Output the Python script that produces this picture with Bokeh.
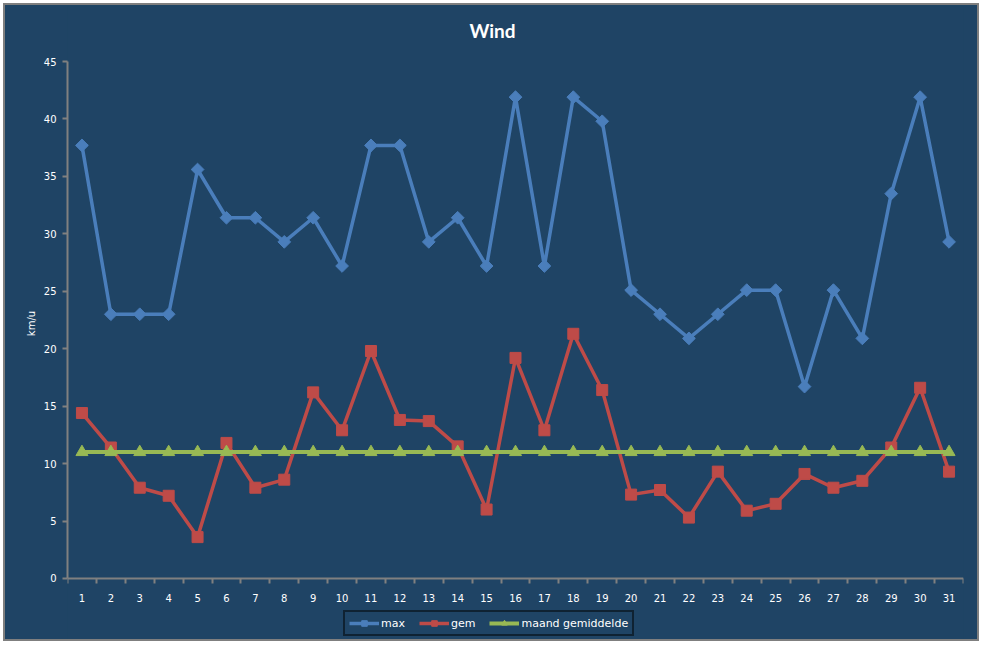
from math import pi

from bokeh.plotting import figure
from bokeh.models import ColumnDataSource, FixedTicker, Legend, LegendItem, Label
from bokeh.embed import file_html
from bokeh.resources import INLINE

days = list(range(1, 32))
wind_max = [37.7, 23.0, 23.0, 23.0, 35.6, 31.4, 31.4, 29.3, 31.4, 27.2,
            37.7, 37.7, 29.3, 31.4, 27.2, 41.9, 27.2, 41.9, 39.8, 25.1,
            23.0, 20.9, 23.0, 25.1, 25.1, 16.7, 25.1, 20.9, 33.5, 41.9, 29.3]
wind_gem = [14.4, 11.4, 7.9, 7.2, 3.6, 11.8, 7.9, 8.6, 16.2, 12.9,
            19.8, 13.8, 13.7, 11.5, 6.0, 19.2, 12.9, 21.3, 16.4, 7.3,
            7.7, 5.3, 9.3, 5.9, 6.5, 9.1, 7.9, 8.5, 11.4, 16.6, 9.3]
maand_gem = [11.0] * 31
y_ticks = [0, 5, 10, 15, 20, 25, 30, 35, 40, 45]

BG = "#1F4465"
AXIS = "#808080"

source = ColumnDataSource(data=dict(day=days, max=wind_max, gem=wind_gem, avg=maand_gem))

# the frame covers the title and legend area too; axes are pinned to 0..45
p = figure(width=976, height=638, output_backend="svg", toolbar_location=None,
           x_range=(0.5, 31.5), y_range=(-5.4, 49.79),
           min_border_left=62, min_border_right=18, min_border_top=1, min_border_bottom=3)
p.background_fill_color = BG
p.border_fill_color = BG
p.outline_line_color = None
p.grid.grid_line_color = None
p.styles = {"margin": "3px", "border": "2px solid #7F7F7F", "background-color": BG}

title = Label(x=425, y=610, x_units="screen", y_units="screen", text="Wind",
              text_align="center", text_baseline="middle", text_color="white",
              text_font="Lato", text_font_size="19px", text_font_style="bold")
p.add_layout(title)

# x axis at y=0, labels at days, tick marks between them
p.xaxis.fixed_location = 0
p.xaxis.ticker = FixedTicker(ticks=days, minor_ticks=[d + 0.5 for d in range(0, 32)])
p.xaxis.major_tick_line_color = None
p.xaxis.minor_tick_line_color = AXIS
p.xaxis.minor_tick_out = 5
p.xaxis.minor_tick_in = 0
p.xaxis.minor_tick_line_width = 2

p.yaxis.bounds = (0, 45)
p.yaxis.ticker = FixedTicker(ticks=y_ticks)
p.yaxis.minor_tick_line_color = None
p.yaxis.major_tick_line_color = AXIS
p.yaxis.major_tick_out = 5
p.yaxis.major_tick_in = 0
p.yaxis.major_tick_line_width = 2
p.yaxis.axis_label = "km/u"

for ax in (p.xaxis, p.yaxis):
    ax.axis_line_color = AXIS
    ax.axis_line_width = 2
    ax.major_label_text_color = "white"
    ax.major_label_text_font = "DejaVu Sans"
    ax.major_label_text_font_size = "10px"
    ax.axis_label_text_color = "white"
    ax.axis_label_text_font = "DejaVu Sans"
    ax.axis_label_text_font_size = "10px"
    ax.axis_label_text_font_style = "normal"
p.xaxis.major_label_standoff = 10
p.yaxis.major_label_standoff = 6
p.yaxis.axis_label_standoff = 4

l1 = p.line("day", "max", source=source, line_color="#4A7EBB", line_width=3.5)
m1 = p.scatter("day", "max", source=source, marker="square", angle=pi / 4, size=9,
               fill_color="#4A7EBB", line_color="#4A7EBB")
l2 = p.line("day", "gem", source=source, line_color="#BE4B48", line_width=3.5)
m2 = p.scatter("day", "gem", source=source, marker="square", size=11,
               fill_color="#BE4B48", line_color="#BE4B48")
l3 = p.line("day", "avg", source=source, line_color="#98B954", line_width=4)
m3 = p.scatter("day", "avg", source=source, marker="triangle", size=12,
               fill_color="#98B954", line_color="#98B954")

legend = Legend(items=[
    LegendItem(label="max", renderers=[l1, m1]),
    LegendItem(label="gem", renderers=[l2, m2]),
    LegendItem(label="maand gemiddelde", renderers=[l3, m3]),
], orientation="horizontal", location=(276, 4))
legend.background_fill_color = BG
legend.background_fill_alpha = 1
legend.border_line_color = "black"
legend.border_line_width = 2
legend.label_text_color = "white"
legend.label_text_font = "DejaVu Sans"
legend.label_text_font_size = "11px"
legend.glyph_width = 30
legend.glyph_height = 14
legend.label_standoff = 2
legend.spacing = 14
legend.padding = 4
legend.margin = 0
p.add_layout(legend)

open("out.html", "w").write(file_html(p, INLINE))
